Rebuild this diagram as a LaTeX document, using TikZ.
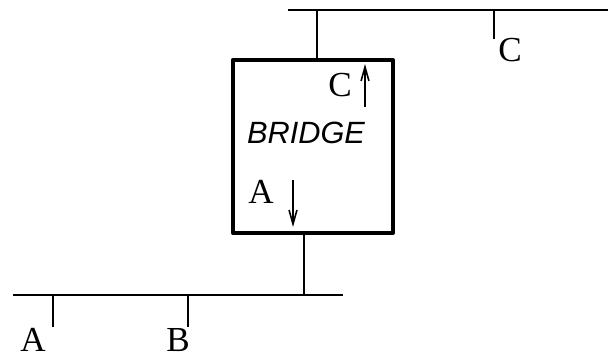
\documentclass[tikz,border=0pt]{standalone}
\usepackage{fontspec}
\setmainfont{Liberation Serif}
\newfontfamily\bridgefont{Liberation Sans}
\usetikzlibrary{arrows.meta}

\begin{document}
\begin{tikzpicture}[x=0.02cm, y=-0.02cm, line join=round, >={Straight Barb[length=8pt,width=4.5pt]},
	font=\fontsize{20}{22}\selectfont,
	bus/.style={line width=1.4pt},
	tap/.style={line width=1.1pt},
	lbl/.style={inner sep=0pt}]
	\useasboundingbox (0,0) rectangle (608,356);
	
	% LAN ON TOP: station C
	\coordinate (topL) at (288,10);
	\coordinate (topR) at (608,10);
	\coordinate (tapC) at (494,10);
	\coordinate (tapTop) at (317,10);
	\draw[bus] (topL) -- (topR);
	\draw[tap] (tapC) -- ++(0,29) coordinate (endC);
	\node[lbl] (labC) at (510,50) {C};
	
	% THE BRIDGE
	\node[draw, line width=2.4pt, minimum width=3.2cm, minimum height=3.46cm] (bridge) at (313,146.5) {};
	\draw[tap] (tapTop) -- (tapTop |- bridge.north);
	\node[lbl] (inC) at (340,85) {C};
	\node[lbl, font=\bridgefont\itshape\fontsize{17.5}{19}\selectfont] (name) at (306,133) {BRIDGE};
	\node[lbl] (inA) at (261,192) {A};
	\coordinate (upS) at (365,107);
	\coordinate (upE) at (365,64);
	\draw[->, line width=0.9pt] (upS) -- (upE);
	\coordinate (dnS) at (293,180);
	\coordinate (dnE) at (293,227);
	\draw[->, line width=0.9pt] (dnS) -- (dnE);
	
	% LAN AT THE BOTTOM: stations A and B
	\coordinate (botL) at (13,295);
	\coordinate (botR) at (343,295);
	\coordinate (tapBot) at (304,295);
	\draw[bus] (botL) -- (botR);
	\draw[tap] (bridge.south -| tapBot) -- (tapBot);
	\draw[tap] (53,295) coordinate (tapA) -- ++(0,32) coordinate (endA);
	\draw[tap] (188,295) coordinate (tapB) -- ++(0,32) coordinate (endB);
	\node[lbl] (labA) at (33,340) {A};
	\node[lbl] (labB) at (178,340) {B};
\end{tikzpicture}
\end{document}
